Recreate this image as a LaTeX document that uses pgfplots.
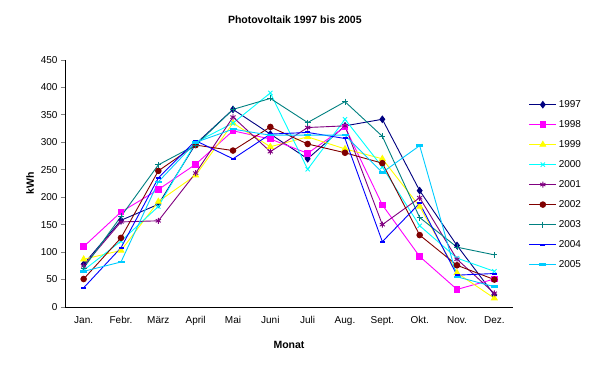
\documentclass[border=0pt]{standalone}
\usepackage{pgfplots}
\pgfplotsset{compat=1.18}
\usepackage{fontspec}
\setmainfont{Liberation Sans}
\definecolor{c97}{HTML}{000080}
\definecolor{c98}{HTML}{FF00FF}
\definecolor{c99}{HTML}{FFFF00}
\definecolor{c00}{HTML}{00FFFF}
\definecolor{c01}{HTML}{800080}
\definecolor{c02}{HTML}{800000}
\definecolor{c03}{HTML}{008080}
\definecolor{c04}{HTML}{0000FF}
\definecolor{c05}{HTML}{00CCFF}
\begin{document}
\begin{tikzpicture}[x=1pt,y=1pt]
\path[use as bounding box] (0,0) rectangle (600,371);
\begin{axis}[
  at={(65pt,64pt)}, anchor=south west,
  scale only axis, width=448pt, height=247pt,
  xmin=0.5, xmax=12.5, ymin=0, ymax=450,
  axis lines*=left,
  axis line style={line width=0.8pt},
  xtick={1,...,12},
  xticklabels={Jan.,Febr.,März,April,Mai,Juni,Juli,Aug.,Sept.,Okt.,Nov.,Dez.},
  major x tick style={draw=none},
  extra x ticks={0.5,1.5,...,12.5},
  extra x tick labels={},
  extra x tick style={major tick length=4pt, tick style={draw=black, line width=0.8pt}},
  ytick={0,50,...,450},
  tick align=outside,
  major tick length=4pt,
  y tick style={line width=0.8pt},
  tick label style={font=\fontsize{10}{12}\selectfont},
  /pgf/number format/assume math mode=true,
  xticklabel style={yshift=-2pt},
  title={\textbf{Photovoltaik 1997 bis 2005}},
  title style={at={(axis description cs:0.513,1.14)}, anchor=center, font=\fontsize{10.5}{13}\selectfont},
  xlabel={\textbf{Monat}},
  xlabel style={at={(axis description cs:0.5,-0.152)}, anchor=center, font=\fontsize{10.5}{12}\selectfont},
  ylabel={\textbf{kWh}},
  ylabel style={at={(axis description cs:-0.078,0.5)}, anchor=center, font=\fontsize{10.5}{12}\selectfont},
  every axis plot/.append style={line width=0.9pt},
  legend style={at={(axis description cs:1.035,0.4955)}, anchor=west, draw=none, fill=none,
    font=\fontsize{10}{12}\selectfont, row sep=7.5pt, inner xsep=0pt, inner ysep=0pt},
  legend cell align=left,
  legend image code/.code={\draw[mark repeat=2,mark phase=2,#1] plot coordinates {(0pt,0pt) (13.5pt,0pt) (27pt,0pt)};},
]
\addplot[c97, mark=diamond*, mark size=3.2pt] coordinates {(1,78)(2,158)(3,187)(4,297)(5,360)(6,315)(7,270)(8,330)(9,342)(10,212)(11,112)(12,22)};
\addlegendentry{1997}
\addplot[c98, mark=square*, mark size=2.8pt] coordinates {(1,110)(2,173)(3,214)(4,260)(5,321)(6,306)(7,280)(8,328)(9,186)(10,92)(11,32)(12,51)};
\addlegendentry{1998}
\addplot[c99, mark=triangle*, mark size=3.3pt] coordinates {(1,87)(2,103)(3,192)(4,240)(5,335)(6,292)(7,310)(8,288)(9,270)(10,183)(11,62)(12,16)};
\addlegendentry{1999}
\addplot[c00, mark=x, mark size=3pt] coordinates {(1,67)(2,120)(3,183)(4,300)(5,335)(6,390)(7,251)(8,342)(9,255)(10,148)(11,89)(12,65)};
\addlegendentry{2000}
\addplot[c01, mark=asterisk, mark size=3pt] coordinates {(1,75)(2,155)(3,157)(4,244)(5,346)(6,283)(7,327)(8,330)(9,150)(10,199)(11,87)(12,25)};
\addlegendentry{2001}
\addplot[c02, mark=*, mark size=2.8pt] coordinates {(1,51)(2,126)(3,248)(4,295)(5,285)(6,328)(7,297)(8,281)(9,262)(10,131)(11,76)(12,50)};
\addlegendentry{2002}
\addplot[c03, mark=+, mark size=3pt] coordinates {(1,71)(2,165)(3,259)(4,295)(5,360)(6,380)(7,336)(8,374)(9,311)(10,163)(11,109)(12,95)};
\addlegendentry{2003}
\addplot[c04, mark=-, mark size=2.5pt, mark options={line width=2pt}] coordinates {(1,35)(2,108)(3,235)(4,303)(5,270)(6,315)(7,318)(8,307)(9,119)(10,189)(11,58)(12,61)};
\addlegendentry{2004}
\addplot[c05, mark=-, mark size=3.5pt, mark options={line width=2.5pt}] coordinates {(1,65)(2,82)(3,228)(4,300)(5,324)(6,313)(7,313)(8,313)(9,245)(10,294)(11,55)(12,37)};
\addlegendentry{2005}
\end{axis}
\end{tikzpicture}
\end{document}
